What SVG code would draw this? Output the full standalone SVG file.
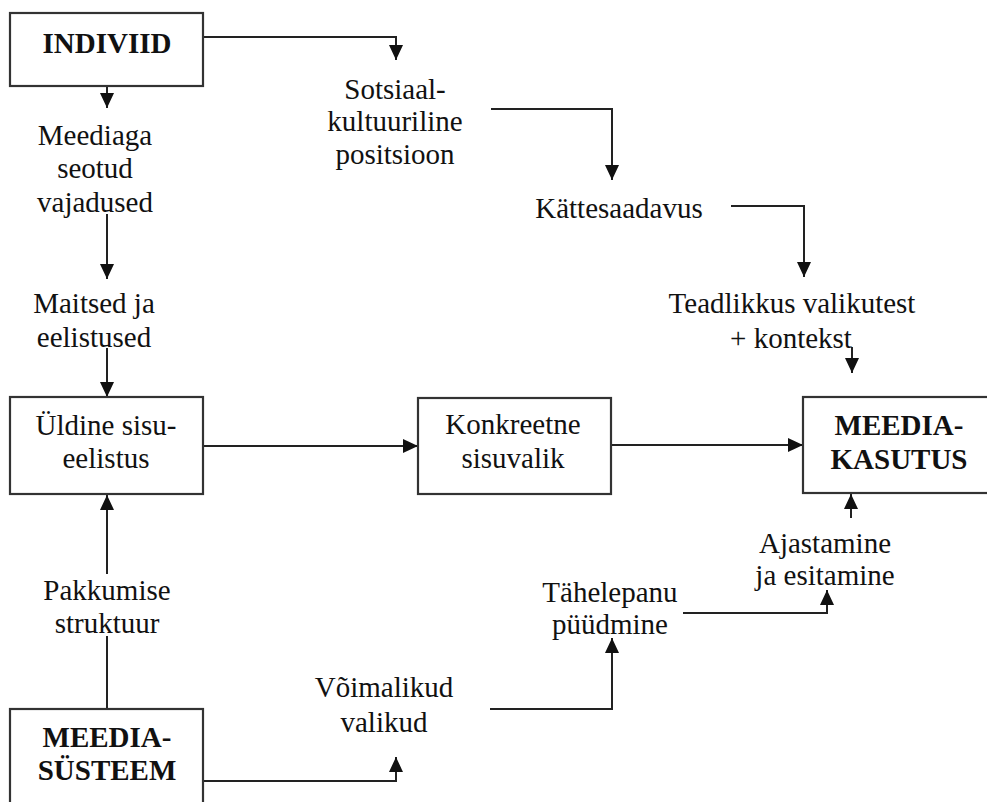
<svg xmlns="http://www.w3.org/2000/svg" width="987" height="802" viewBox="0 0 987 802">
<defs>
<marker id="ah" markerUnits="userSpaceOnUse" markerWidth="16" markerHeight="14" refX="15" refY="7" orient="auto">
<path d="M0,0 L15,7 L0,14 z" fill="#111"/>
</marker>
<style>
.box{fill:#fff;stroke:#333;stroke-width:2.2}
.t{font-family:"Liberation Serif","Times New Roman",serif;font-size:29px;fill:#111;text-anchor:middle}
.b{font-weight:bold}
.c{fill:none;stroke:#222;stroke-width:2}
</style>
</defs>
<rect width="987" height="802" fill="#fff"/>
<g id="connectors">
<path class="c" d="M203,37 H396 V60" marker-end="url(#ah)"/>
<path class="c" d="M107,86 V108" marker-end="url(#ah)"/>
<path class="c" d="M107,214 V279" marker-end="url(#ah)"/>
<path class="c" d="M107,348 V397" marker-end="url(#ah)"/>
<path class="c" d="M491,109 H612 V180" marker-end="url(#ah)"/>
<path class="c" d="M731,206 H804 V277" marker-end="url(#ah)"/>
<path class="c" d="M852,347 V373" marker-end="url(#ah)"/>
<path class="c" d="M203,446 H418" marker-end="url(#ah)"/>
<path class="c" d="M611,445 H803" marker-end="url(#ah)"/>
<path class="c" d="M107,574 V495" marker-end="url(#ah)"/>
<path class="c" d="M107,636 V709"/>
<path class="c" d="M851,518 V494" marker-end="url(#ah)"/>
<path class="c" d="M683,613 H827 V590" marker-end="url(#ah)"/>
<path class="c" d="M490,709 H612 V638" marker-end="url(#ah)"/>
<path class="c" d="M203,781 H396 V757" marker-end="url(#ah)"/>
</g>
<g id="individ">
<rect class="box" x="10" y="13" width="193" height="73"/>
<text class="t b" x="107" y="53">INDIVIID</text>
</g>
<g id="meediaga">
<text class="t" x="95" y="145">Meediaga</text>
<text class="t" x="95" y="178">seotud</text>
<text class="t" x="95" y="212">vajadused</text>
</g>
<g id="maitsed">
<text class="t" x="94" y="313">Maitsed ja</text>
<text class="t" x="94" y="347">eelistused</text>
</g>
<g id="sotsiaal">
<text class="t" x="395" y="99">Sotsiaal-</text>
<text class="t" x="395" y="131">kultuuriline</text>
<text class="t" x="395" y="164">positsioon</text>
</g>
<g id="kattesaadavus">
<text class="t" x="619" y="218">Kättesaadavus</text>
</g>
<g id="teadlikkus">
<text class="t" x="792" y="313">Teadlikkus valikutest</text>
<text class="t" x="791" y="348">+ kontekst</text>
</g>
<g id="uldine">
<rect class="box" x="10" y="397" width="193" height="97"/>
<text class="t" x="106" y="435">Üldine sisu-</text>
<text class="t" x="106" y="468">eelistus</text>
</g>
<g id="konkreetne">
<rect class="box" x="418" y="398" width="193" height="96"/>
<text class="t" x="513" y="434">Konkreetne</text>
<text class="t" x="513" y="468">sisuvalik</text>
</g>
<g id="meediakasutus">
<rect class="box" x="803" y="397" width="195" height="96"/>
<text class="t b" x="899" y="435">MEEDIA-</text>
<text class="t b" x="899" y="469">KASUTUS</text>
</g>
<g id="ajastamine">
<text class="t" x="825" y="553">Ajastamine</text>
<text class="t" x="825" y="585">ja esitamine</text>
</g>
<g id="pakkumise">
<text class="t" x="107" y="600">Pakkumise</text>
<text class="t" x="107" y="633">struktuur</text>
</g>
<g id="tahelepanu">
<text class="t" x="610" y="602">Tähelepanu</text>
<text class="t" x="610" y="634">püüdmine</text>
</g>
<g id="voimalikud">
<text class="t" x="384" y="697">Võimalikud</text>
<text class="t" x="384" y="732">valikud</text>
</g>
<g id="meediasusteem">
<rect class="box" x="10" y="709" width="193" height="110"/>
<text class="t b" x="107" y="747">MEEDIA-</text>
<text class="t b" x="107" y="780">SÜSTEEM</text>
</g>
</svg>
